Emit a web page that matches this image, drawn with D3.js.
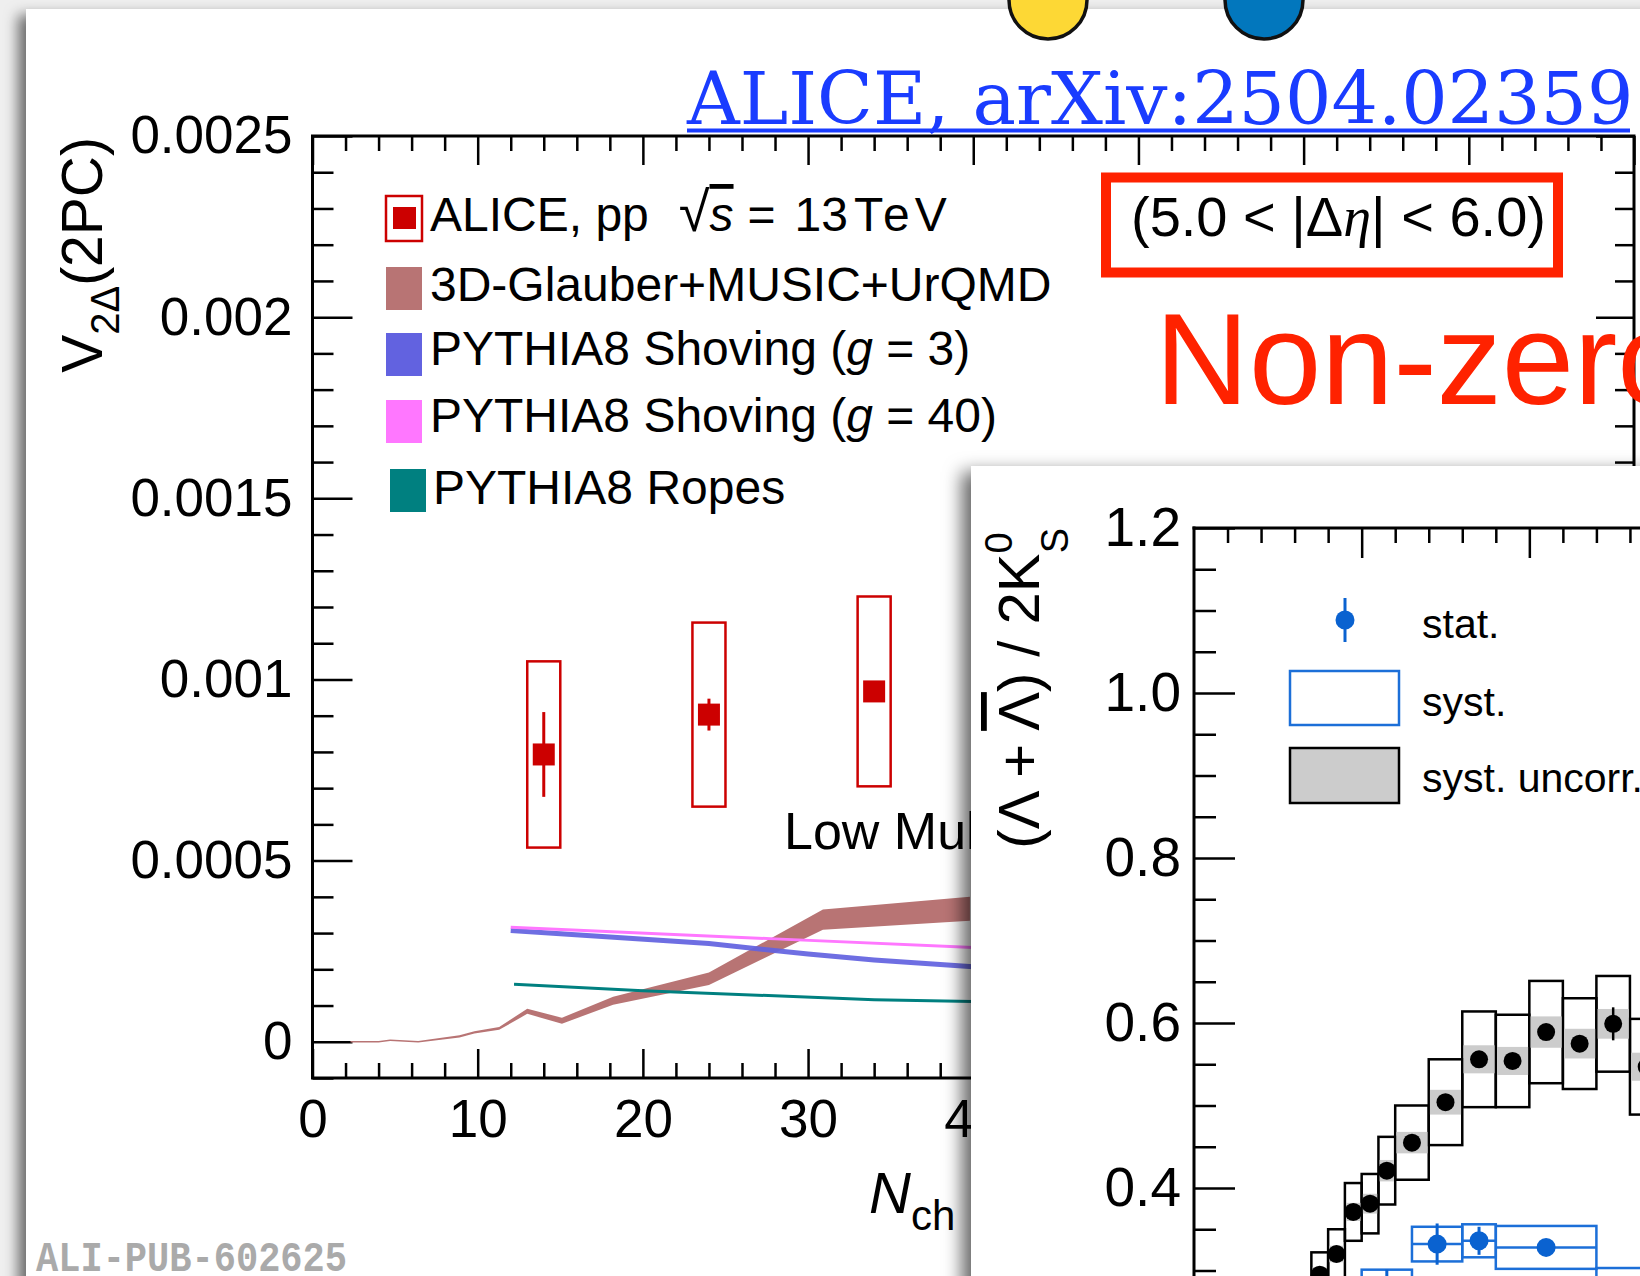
<!DOCTYPE html>
<html><head><meta charset="utf-8">
<script src="https://cdn.jsdelivr.net/npm/d3@7/dist/d3.min.js"></script>
<style>html,body{margin:0;padding:0;background:#efefef;overflow:hidden}svg{display:block}</style>
</head><body>
<svg id="c" width="1640" height="1276" xmlns="http://www.w3.org/2000/svg"></svg>
<script>
// ================= DATA: left panel (v2 vs Nch) =================
const nchTicks = [0, 10, 20, 30, 40, 50, 60, 70, 80];
const nchTickLabels = ["0", "10", "20", "30", "40", "50", "60", "70", ""];
const nchMinor = [2,4,6,8,12,14,16,18,22,24,26,28,32,34,36,38,42,44,46,48,52,54,56,58,62,64,66,68,72,74,76,78];
const v2Ticks = [0, 0.0005, 0.001, 0.0015, 0.002, 0.0025];
const v2TickLabels = ["0", "0.0005", "0.001", "0.0015", "0.002", "0.0025"];
const v2Minor = [-0.0001,0.0001,0.0002,0.0003,0.0004,0.0006,0.0007,0.0008,0.0009,0.0011,0.0012,0.0013,0.0014,0.0016,0.0017,0.0018,0.0019,0.0021,0.0022,0.0023,0.0024];

const aliceNch = [14, 24, 34];
const aliceNchHalf = [1, 1, 1];
const aliceV2 = [0.000793, 0.000903, 0.000967];
const aliceStat = [0.000117, 0.000044, 0.000008];
const aliceSyst = [0.000257, 0.000254, 0.000262];

const glauberNch = [2.3, 4.0, 4.7, 6.4, 8.9, 9.8, 11.3, 13.0, 15.1, 18.2, 24.0, 30.9, 39.8];
const glauberV2  = [0, 0, 0.000004, 0, 0.000015, 0.000026, 0.000037, 0.000084, 0.000058, 0.000113, 0.000174, 0.000337, 0.000367];
const glauberErr = [0.000002, 0.000002, 0.000002, 0.000002, 0.000003, 0.000003, 0.000004, 0.000007, 0.000008, 0.000011, 0.000017, 0.000028, 0.000033];

const shove3Nch = [12, 24, 30, 34, 40];
const shove3V2  = [0.000307, 0.000271, 0.000242, 0.000226, 0.000207];
const shove40Nch = [12, 28, 40];
const shove40V2  = [0.000316, 0.000284, 0.000260];
const ropesNch = [12.2, 20, 34, 40];
const ropesV2  = [0.000159, 0.000141, 0.000116, 0.000111];

const legendLabels = ["ALICE, pp", "3D-Glauber+MUSIC+UrQMD", "PYTHIA8 Shoving (", "PYTHIA8 Shoving (", "PYTHIA8 Ropes"];
const legendColors = ["#cc0000", "#b87474", "#6262e0", "#ff77ff", "#008080"];

// ================= DATA: inset (baryon/meson ratio vs pT) =================
const ptMajor = [1, 2];
const ptMinor = [0.2,0.4,0.6,0.8,1.2,1.4,1.6,1.8,2.2,2.4,2.6];
const ratioTicks = [0.4, 0.6, 0.8, 1.0, 1.2];
const ratioMinor = [0.3,0.35,0.45,0.5,0.55,0.65,0.7,0.75,0.85,0.9,0.95,1.05,1.1,1.15];

const ptLo = [0.7, 0.8, 0.9, 1.0, 1.1, 1.2, 1.4, 1.6, 1.8, 2.0, 2.2, 2.4, 2.6];
const ptHi = [0.8, 0.9, 1.0, 1.1, 1.2, 1.4, 1.6, 1.8, 2.0, 2.2, 2.4, 2.6, 2.8];
const ratio       = [0.295, 0.320, 0.371, 0.381, 0.421, 0.455, 0.504, 0.556, 0.554, 0.589, 0.575, 0.599, 0.547];
const ratioStat   = [0.006, 0.006, 0.006, 0.006, 0.006, 0.006, 0.007, 0.007, 0.008, 0.008, 0.009, 0.020, 0.010];
const ratioSyst   = [0.027, 0.030, 0.035, 0.036, 0.041, 0.045, 0.052, 0.058, 0.056, 0.062, 0.055, 0.058, 0.058];
const ratioUncorr = [0.009, 0.010, 0.011, 0.012, 0.013, 0.013, 0.015, 0.017, 0.017, 0.019, 0.018, 0.018, 0.017];

const bluePtLo = [1.0, 1.3, 1.6, 1.8, 2.4];
const bluePtHi = [1.3, 1.6, 1.8, 2.4, 3.0];
const blueRatio = [0.281, 0.332, 0.336, 0.328, 0.279];
const blueStat  = [0.020, 0.025, 0.017, 0.006, 0.010];
const blueSyst  = [0.020, 0.021, 0.020, 0.026, 0.024];

// ================= DRAWING =================
const SANS = "'Liberation Sans', Arial, Helvetica, sans-serif";
const svg = d3.select("#c");
const defs = svg.append("defs");

const f1 = defs.append("filter").attr("id", "sh1").attr("x", "-5%").attr("y", "-5%").attr("width", "110%").attr("height", "110%");
f1.append("feDropShadow").attr("dx", -8).attr("dy", 6).attr("stdDeviation", 7).attr("flood-color", "#000").attr("flood-opacity", 0.55);
const f2 = defs.append("filter").attr("id", "sh2").attr("x", "-10%").attr("y", "-10%").attr("width", "120%").attr("height", "120%");
f2.append("feDropShadow").attr("dx", -9).attr("dy", 6).attr("stdDeviation", 9).attr("flood-color", "#000").attr("flood-opacity", 0.6);
defs.append("clipPath").attr("id", "clipR").append("rect").attr("x", 1194).attr("y", 528).attr("width", 446).attr("height", 748);
defs.append("clipPath").attr("id", "clipL").append("rect").attr("x", 0).attr("y", 0).attr("width", 971).attr("height", 1276);

// background & main slide panel
svg.append("rect").attr("x", 0).attr("y", 0).attr("width", 1640).attr("height", 1276).attr("fill", "#efefef");
svg.append("rect").attr("x", 26).attr("y", 9).attr("width", 1700).attr("height", 1400).attr("fill", "#fff").attr("filter", "url(#sh1)");

// decorative circles
svg.append("circle").attr("cx", 1048).attr("cy", 0).attr("r", 39).attr("fill", "#fdd835").attr("stroke", "#111").attr("stroke-width", 3.5);
svg.append("circle").attr("cx", 1264).attr("cy", 0).attr("r", 39).attr("fill", "#0277bd").attr("stroke", "#111").attr("stroke-width", 3.5);

// citation
svg.append("text").attr("x", 687).attr("y", 124).attr("font-family", "'DejaVu Serif', serif").attr("font-size", 73)
  .attr("fill", "#1a3cff").text("ALICE, arXiv:2504.02359");
svg.append("rect").attr("x", 687).attr("y", 128.5).attr("width", 943).attr("height", 4).attr("fill", "#1a3cff");

// ---------- left chart ----------
const xL = d3.scaleLinear().domain([0, 80]).range([312.5, 1634]);
const yL = d3.scaleLinear().domain([-0.0001, 0.0025]).range([1078, 136]);
const gL = svg.append("g");

function styleAxis(g, fs) {
  g.select(".domain").remove();
  g.selectAll(".tick line").attr("stroke", "#000").attr("stroke-width", 2.5);
  g.attr("font-family", SANS).attr("font-size", fs || 10);
  g.selectAll(".tick text").attr("fill", "#000");
}
gL.append("g").attr("transform", "translate(312.5,0)")
  .call(d3.axisLeft(yL).tickValues(v2Ticks).tickSize(-40).tickPadding(20).tickFormat((d, i) => v2TickLabels[i]))
  .call(g => styleAxis(g, 53));
gL.append("g").attr("transform", "translate(312.5,0)")
  .call(d3.axisLeft(yL).tickValues(v2Minor).tickSize(-21).tickFormat(""))
  .call(g => styleAxis(g));
gL.append("g").attr("transform", "translate(1634,0)")
  .call(d3.axisRight(yL).tickValues(v2Ticks).tickSize(-38).tickFormat(""))
  .call(g => styleAxis(g));
gL.append("g").attr("transform", "translate(1634,0)")
  .call(d3.axisRight(yL).tickValues(v2Minor).tickSize(-19).tickFormat(""))
  .call(g => styleAxis(g));
gL.append("g").attr("transform", "translate(0,1078)")
  .call(d3.axisBottom(xL).tickValues(nchTicks).tickSize(-29).tickPadding(21).tickFormat((d, i) => nchTickLabels[i]))
  .call(g => styleAxis(g, 53));
gL.append("g").attr("transform", "translate(0,1078)")
  .call(d3.axisBottom(xL).tickValues(nchMinor).tickSize(-15).tickFormat(""))
  .call(g => styleAxis(g));
gL.append("g").attr("transform", "translate(0,136)")
  .call(d3.axisTop(xL).tickValues(nchTicks).tickSize(-29).tickFormat(""))
  .call(g => styleAxis(g));
gL.append("g").attr("transform", "translate(0,136)")
  .call(d3.axisTop(xL).tickValues(nchMinor).tickSize(-15).tickFormat(""))
  .call(g => styleAxis(g));

// axis titles
const yt = gL.append("text").attr("transform", "translate(102,137) rotate(-90)").attr("text-anchor", "end")
  .attr("font-family", SANS).attr("font-size", 57).attr("fill", "#000");
yt.append("tspan").text("V");
yt.append("tspan").attr("font-size", 40).attr("dy", 17).text("2Δ");
yt.append("tspan").attr("dy", -17).text("(2PC)");
const xt = gL.append("text").attr("x", 869).attr("y", 1213).attr("font-family", SANS).attr("font-size", 58).attr("fill", "#000");
xt.append("tspan").attr("font-style", "italic").text("N");
xt.append("tspan").attr("font-size", 42).attr("dy", 17).text("ch");

// legend
const legBase = [231, 301, 364.5, 432, 504];
const legBoxY = [267, 333, 400, 469];
gL.append("rect").attr("x", 386).attr("y", 196).attr("width", 36).attr("height", 45)
  .attr("fill", "none").attr("stroke", legendColors[0]).attr("stroke-width", 2.5);
gL.append("rect").attr("x", 393).attr("y", 207).attr("width", 23).attr("height", 22).attr("fill", legendColors[0]);
for (let i = 1; i < 5; i++) {
  gL.append("rect").attr("x", i === 4 ? 390 : 386).attr("y", legBoxY[i - 1]).attr("width", 36).attr("height", 43)
    .attr("fill", legendColors[i]);
}
legendLabels.forEach((lab, i) => {
  const t = gL.append("text").attr("x", i === 4 ? 433 : 430).attr("y", legBase[i])
    .attr("font-family", SANS).attr("font-size", 48).attr("fill", "#000");
  t.append("tspan").text(lab);
  if (i === 0) {
    t.append("tspan").attr("dx", 30).attr("font-size", 56).text("\u221A");
    t.append("tspan").attr("font-style", "italic").style("text-decoration", "overline").text("s");
    t.append("tspan").attr("dx", 14).text("=");
    t.append("tspan").attr("dx", 19).text("13");
    t.append("tspan").attr("dx", 6).attr("letter-spacing", 5).text("TeV");
  } else if (i === 2 || i === 3) {
    t.append("tspan").attr("font-style", "italic").text("g");
    t.append("tspan").text(i === 2 ? " = 3)" : " = 40)");
  }
});

// model curves
const glauber = glauberNch.map((n, i) => ({n, v: glauberV2[i], e: glauberErr[i]}));
gL.append("path").datum(glauber)
  .attr("d", d3.area().x(d => xL(d.n)).y0(d => yL(d.v - d.e)).y1(d => yL(d.v + d.e)))
  .attr("fill", legendColors[1]);
const lineL = d3.line().x(d => xL(d[0])).y(d => yL(d[1]));
gL.append("path").datum(ropesNch.map((n, i) => [n, ropesV2[i]])).attr("d", lineL)
  .attr("fill", "none").attr("stroke", legendColors[4]).attr("stroke-width", 3);
gL.append("path").datum(shove3Nch.map((n, i) => [n, shove3V2[i]])).attr("d", lineL)
  .attr("fill", "none").attr("stroke", legendColors[2]).attr("stroke-width", 5).attr("stroke-opacity", 0.92);
gL.append("path").datum(shove40Nch.map((n, i) => [n, shove40V2[i]])).attr("d", lineL)
  .attr("fill", "none").attr("stroke", legendColors[3]).attr("stroke-width", 3);

// ALICE data
aliceNch.forEach((n, i) => {
  const v = aliceV2[i];
  gL.append("rect").attr("x", xL(n - aliceNchHalf[i])).attr("y", yL(v + aliceSyst[i]))
    .attr("width", xL(n + aliceNchHalf[i]) - xL(n - aliceNchHalf[i])).attr("height", yL(v - aliceSyst[i]) - yL(v + aliceSyst[i]))
    .attr("fill", "none").attr("stroke", "#cc0000").attr("stroke-width", 2.5);
  gL.append("line").attr("x1", xL(n)).attr("x2", xL(n)).attr("y1", yL(v + aliceStat[i])).attr("y2", yL(v - aliceStat[i]))
    .attr("stroke", "#cc0000").attr("stroke-width", 3);
  gL.append("rect").attr("x", xL(n) - 11).attr("y", yL(v) - 11).attr("width", 22).attr("height", 22).attr("fill", "#cc0000");
});

// annotation, partly hidden behind the inset panel in the reference
gL.append("g").attr("clip-path", "url(#clipL)")
  .append("text").attr("x", 784).attr("y", 849).attr("font-family", SANS).attr("font-size", 52).attr("fill", "#000")
  .text("Low Mul");

// frame
gL.append("rect").attr("x", 312.5).attr("y", 136).attr("width", 1321.5).attr("height", 942)
  .attr("fill", "none").attr("stroke", "#000").attr("stroke-width", 3);

// eta-gap box and annotation
svg.append("rect").attr("x", 1106).attr("y", 177.5).attr("width", 452).attr("height", 95)
  .attr("fill", "none").attr("stroke", "#ff2200").attr("stroke-width", 10);
const et = svg.append("text").attr("x", 1131).attr("y", 236).attr("font-family", SANS).attr("font-size", 56).attr("fill", "#000");
et.append("tspan").text("(5.0 < |Δ");
et.append("tspan").attr("font-family", "'Liberation Serif', serif").attr("font-style", "italic").text("η");
et.append("tspan").text("| < 6.0)");
svg.append("text").attr("x", 1155).attr("y", 404).attr("font-family", SANS).attr("font-size", 130).attr("fill", "#ff2200")
  .text("Non-zero");

// ---------- inset panel ----------
svg.append("rect").attr("x", 971).attr("y", 466).attr("width", 800).attr("height", 900).attr("fill", "#fff").attr("filter", "url(#sh2)");
const xR = d3.scaleLinear().domain([0, 2.66]).range([1194, 1640]);
const yR = d3.scaleLinear().domain([0.3, 1.2]).range([1270.5, 528]);
const gR = svg.append("g");

gR.append("g").attr("transform", "translate(1194,0)")
  .call(d3.axisLeft(yR).tickValues(ratioTicks).tickSize(-41).tickPadding(13).tickFormat(d3.format(".1f")))
  .call(g => styleAxis(g, 55));
gR.append("g").attr("transform", "translate(1194,0)")
  .call(d3.axisLeft(yR).tickValues(ratioMinor).tickSize(-22).tickFormat(""))
  .call(g => styleAxis(g));
gR.append("g").attr("transform", "translate(0,528)")
  .call(d3.axisTop(xR).tickValues(ptMajor).tickSize(-30).tickFormat(""))
  .call(g => styleAxis(g));
gR.append("g").attr("transform", "translate(0,528)")
  .call(d3.axisTop(xR).tickValues(ptMinor).tickSize(-15).tickFormat(""))
  .call(g => styleAxis(g));
gR.append("line").attr("x1", 1194).attr("x2", 1194).attr("y1", 526.5).attr("y2", 1276).attr("stroke", "#000").attr("stroke-width", 3);
gR.append("line").attr("x1", 1192.5).attr("x2", 1640).attr("y1", 528).attr("y2", 528).attr("stroke", "#000").attr("stroke-width", 3);

const rt = gR.append("text").attr("transform", "translate(1039,528) rotate(-90)").attr("text-anchor", "end")
  .attr("font-family", SANS).attr("font-size", 58).attr("fill", "#000");
rt.append("tspan").text("(Λ + ");
rt.append("tspan").style("text-decoration", "overline").text("Λ");
rt.append("tspan").text(") / 2K");
rt.append("tspan").attr("font-size", 38).attr("dy", -27).text("0");
rt.append("tspan").attr("font-size", 38).attr("dx", -21).attr("dy", 56).text("S");

// inset legend
const BLUE = "#0a62d0", BLUEBOX = "#1c6fd8";
gR.append("line").attr("x1", 1345).attr("x2", 1345).attr("y1", 598).attr("y2", 642).attr("stroke", BLUE).attr("stroke-width", 3);
gR.append("circle").attr("cx", 1345).attr("cy", 620).attr("r", 9.5).attr("fill", BLUE);
gR.append("rect").attr("x", 1290).attr("y", 671).attr("width", 109).attr("height", 54).attr("fill", "none").attr("stroke", BLUEBOX).attr("stroke-width", 2.5);
gR.append("rect").attr("x", 1290).attr("y", 748).attr("width", 109).attr("height", 55).attr("fill", "#cccccc").attr("stroke", "#000").attr("stroke-width", 2.5);
[["stat.", 638], ["syst.", 716], ["syst. uncorr.", 792]].forEach(([t, y]) => {
  gR.append("text").attr("x", 1422).attr("y", y).attr("font-family", SANS).attr("font-size", 41).attr("fill", "#000").text(t);
});

// inset data
const gD = gR.append("g").attr("clip-path", "url(#clipR)");
ptLo.forEach((lo, i) => {
  const hi = ptHi[i], v = ratio[i];
  gD.append("rect").attr("x", xR(lo)).attr("y", yR(v + ratioSyst[i])).attr("width", xR(hi) - xR(lo))
    .attr("height", yR(v - ratioSyst[i]) - yR(v + ratioSyst[i])).attr("fill", "none").attr("stroke", "#000").attr("stroke-width", 2.5);
});
ptLo.forEach((lo, i) => {
  const hi = ptHi[i], v = ratio[i];
  gD.append("rect").attr("x", xR(lo) + 1.2).attr("y", yR(v + ratioUncorr[i])).attr("width", xR(hi) - xR(lo) - 2.4)
    .attr("height", yR(v - ratioUncorr[i]) - yR(v + ratioUncorr[i])).attr("fill", "#cccccc");
});
ptLo.forEach((lo, i) => {
  const c = (lo + ptHi[i]) / 2, v = ratio[i];
  gD.append("line").attr("x1", xR(c)).attr("x2", xR(c)).attr("y1", yR(v + ratioStat[i])).attr("y2", yR(v - ratioStat[i]))
    .attr("stroke", "#000").attr("stroke-width", 2.5);
  gD.append("circle").attr("cx", xR(c)).attr("cy", yR(v)).attr("r", 9).attr("fill", "#000");
});
bluePtLo.forEach((lo, i) => {
  const hi = bluePtHi[i], c = (lo + hi) / 2, v = blueRatio[i];
  gD.append("rect").attr("x", xR(lo)).attr("y", yR(v + blueSyst[i])).attr("width", xR(hi) - xR(lo))
    .attr("height", yR(v - blueSyst[i]) - yR(v + blueSyst[i])).attr("fill", "none").attr("stroke", BLUEBOX).attr("stroke-width", 2.5);
  gD.append("line").attr("x1", xR(lo)).attr("x2", xR(hi)).attr("y1", yR(v)).attr("y2", yR(v)).attr("stroke", BLUEBOX).attr("stroke-width", 2.5);
  gD.append("line").attr("x1", xR(c)).attr("x2", xR(c)).attr("y1", yR(v + blueStat[i])).attr("y2", yR(v - blueStat[i]))
    .attr("stroke", BLUE).attr("stroke-width", 3);
  gD.append("circle").attr("cx", xR(c)).attr("cy", yR(v)).attr("r", 9.5).attr("fill", BLUE);
});

// publication id
svg.append("text").attr("x", 36).attr("y", 1271).attr("font-family", "'Liberation Mono', monospace").attr("font-weight", "bold")
  .attr("font-size", 43).attr("textLength", 311).attr("lengthAdjust", "spacingAndGlyphs").attr("fill", "#aaaaaa")
  .text("ALI-PUB-602625");
</script>
</body></html>
